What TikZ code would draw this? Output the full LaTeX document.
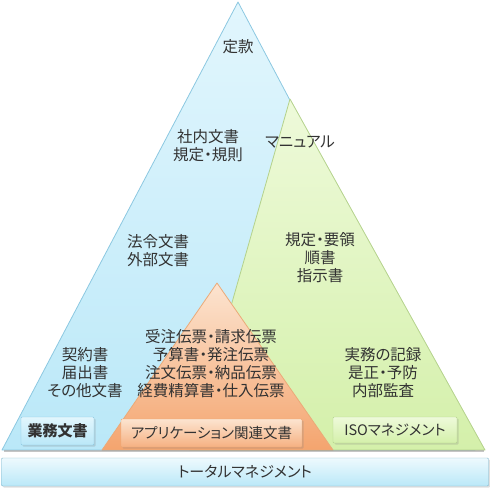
\documentclass[tikz,border=0pt]{standalone}
\usepackage{fontspec}
\setmainfont{Noto Sans CJK JP}[RawFeature=+palt]
\usepackage{xcolor}
\usetikzlibrary{shadows}
\definecolor{tbBlueTop}{RGB}{226,246,253}
\definecolor{tbBlueBot}{RGB}{186,232,248}
\definecolor{tbBlueLine}{RGB}{140,200,225}
\definecolor{tbGreenTop}{RGB}{238,250,218}
\definecolor{tbGreenBot}{RGB}{212,240,170}
\definecolor{tbGreenLine}{RGB}{180,210,140}
\definecolor{tbOrangeTop}{RGB}{252,228,208}
\definecolor{tbOrangeBot}{RGB}{244,164,110}
\definecolor{tbOrangeLine}{RGB}{235,170,120}
\definecolor{tbText}{RGB}{50,50,50}

\begin{document}
\begin{tikzpicture}[
  x=1pt, y=1pt,
  lbl/.style={align=center, text=tbText, font=\fontsize{15.5}{18}\selectfont, inner sep=0pt},
  tag/.style={draw, rounded corners=1pt, inner sep=0pt, text=tbText,
    font=\fontsize{14.5}{16}\selectfont, drop shadow={opacity=0.25, shadow xshift=1.5pt, shadow yshift=-1.5pt}},
  tri/.style={line width=0.8pt, line join=round}
]
\useasboundingbox (0,0) rectangle (490,488);
% triangles
\shade[tri, draw=tbBlueLine, top color=tbBlueTop, bottom color=tbBlueBot]
  (238,486) -- (2,38) -- (475,38) -- cycle;
\shade[tri, draw=tbGreenLine, top color=tbGreenTop, bottom color=tbGreenBot]
  (290,389) -- (190,38) -- (485,38) -- cycle;
\shade[tri, draw=tbOrangeLine, top color=tbOrangeTop, bottom color=tbOrangeBot]
  (217,205) -- (102,38) -- (333,38) -- cycle;
\fill[black!45, opacity=0.5] (4,36) rectangle (484,38);

% texts
\node[lbl] (teikan) at (238,441) {定款};
\node[lbl] (shanai) at (208,342) {社内文書\\規定・規則};
\node[lbl] (manual) at (300,346) {マニュアル};
\node[lbl] (hourei) at (158,237) {法令文書\\外部文書};
\node[lbl] (kitei) at (320,230) {規定・要領\\順書\\指示書};
\node[lbl] (keiyaku) at (85,115) {契約書\\届出書\\その他文書};
\node[lbl] (denpyo) at (211,124) {受注伝票・請求伝票\\予算書・発注伝票\\注文伝票・納品伝票\\経費精算書・仕入伝票};
\node[lbl] (jitsumu) at (383,115) {実務の記録\\是正・予防\\内部監査};

% labels
\node[tag, draw=tbBlueLine, top color=tbBlueTop, bottom color=tbBlueBot,
  minimum width=73pt, minimum height=28pt, font=\fontsize{15}{16}\selectfont\bfseries]
  (gyomu) at (57.5,57) {業務文書};
\node[tag, draw=tbOrangeLine, top color=tbOrangeTop, bottom color=tbOrangeBot!80!tbOrangeTop,
  minimum width=181pt, minimum height=28pt] (app) at (211.5,55) {アプリケーション関連文書};
\node[tag, draw=tbGreenLine, top color=tbGreenTop, bottom color=tbGreenBot,
  minimum width=124pt, minimum height=26pt] (iso) at (395,58) {ISOマネジメント};
\node[tag, draw=tbBlueLine!90!black, top color=tbBlueTop!60, bottom color=tbBlueBot,
  minimum width=487pt, minimum height=28pt, font=\fontsize{15}{16}\selectfont] (total) at (245,16) {トータルマネジメント};
\end{tikzpicture}
\end{document}
